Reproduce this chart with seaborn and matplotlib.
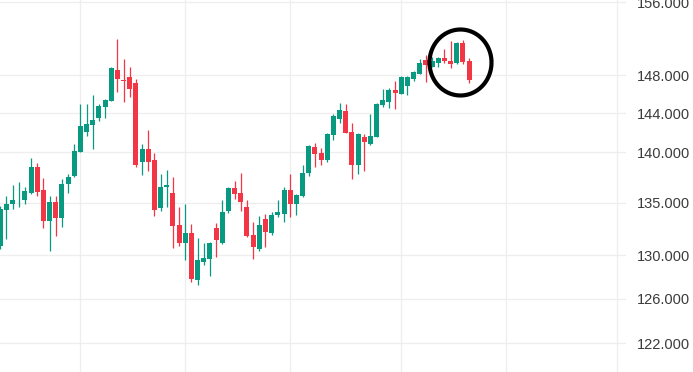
import numpy as np
import pandas as pd
import matplotlib
matplotlib.use("Agg")
import matplotlib.pyplot as plt
import seaborn as sns
from matplotlib.path import Path
from matplotlib.ticker import FixedLocator, FixedFormatter, NullLocator, NullFormatter

# ---- data ----
opens = [130.83, 134.29, 134.84, 135.23, 135.23, 135.96, 138.56, 136.21, 133.23, 135.13,
         133.52, 136.82, 137.61, 140.06, 142.11, 142.80, 143.54, 144.66, 145.33, 148.57,
         147.51, 147.82, 147.19, 139.08, 140.34, 139.25, 134.48, 136.53, 136.01, 132.82,
         131.12, 132.05, 127.73, 129.40, 129.68, 132.53, 131.12, 134.19, 136.50, 136.01,
         134.55, 131.86, 130.54, 133.39, 132.08, 133.81, 133.90, 136.21, 134.87, 135.65,
         137.90, 140.54, 139.93, 139.27, 141.81, 143.45, 144.24, 142.08, 138.69, 141.57,
         140.88, 141.60, 144.91, 145.14, 146.45, 146.06, 146.91, 147.64, 148.17, 149.65,
         148.93, 149.27, 149.85, 149.52, 149.27, 151.52, 149.51]
highs = [134.67, 135.62, 136.79, 137.09, 136.60, 139.44, 138.95, 137.43, 135.62, 135.62,
         137.33, 137.82, 140.85, 144.98, 144.98, 145.93, 144.98, 145.53, 148.93, 151.93,
         149.76, 148.90, 147.61, 140.85, 142.29, 139.93, 137.87, 138.27, 137.58, 134.55,
         134.84, 132.91, 131.66, 131.18, 131.28, 133.01, 135.23, 136.60, 137.19, 137.97,
         135.23, 133.11, 133.68, 133.88, 134.16, 135.23, 136.60, 137.87, 135.90, 138.76,
         140.75, 140.95, 140.44, 141.98, 143.93, 145.08, 144.98, 143.01, 141.98, 141.88,
         143.93, 145.08, 146.56, 146.66, 147.40, 147.93, 147.90, 148.50, 149.76, 150.19,
         149.94, 150.01, 150.85, 151.72, 151.60, 151.82, 149.81]
lows = [130.58, 131.57, 134.36, 134.58, 134.87, 135.90, 135.67, 132.53, 130.44, 131.79,
        132.67, 135.96, 137.55, 140.00, 141.70, 140.37, 143.24, 143.54, 145.30, 146.27,
        145.22, 145.75, 138.49, 137.71, 138.10, 133.71, 134.19, 134.58, 130.63, 130.83,
        129.59, 127.54, 127.27, 129.13, 128.10, 129.87, 131.05, 134.00, 135.35, 134.19,
        131.69, 129.68, 130.44, 130.73, 131.88, 133.62, 133.13, 133.62, 133.81, 135.60,
        137.61, 138.49, 138.78, 139.08, 141.29, 143.04, 141.95, 137.31, 137.80, 138.10,
        140.78, 141.55, 144.69, 144.59, 144.48, 146.00, 145.96, 147.43, 148.10, 147.29,
        148.90, 148.93, 149.27, 148.82, 149.20, 149.16, 147.22]
closes = [134.45, 134.93, 135.23, 135.32, 136.11, 138.56, 136.06, 133.23, 135.13, 133.52,
          136.89, 137.58, 140.13, 142.70, 142.90, 143.31, 144.77, 145.40, 148.79, 147.64,
          147.40, 146.59, 138.69, 140.34, 139.08, 134.29, 136.60, 136.79, 132.75, 131.12,
          132.14, 127.82, 129.56, 129.75, 131.18, 131.40, 134.16, 136.50, 135.84, 135.06,
          131.79, 130.73, 132.82, 132.17, 133.78, 134.16, 136.30, 134.87, 135.81, 137.97,
          140.65, 139.86, 139.27, 141.88, 143.72, 144.35, 142.01, 138.69, 141.88, 141.09,
          141.67, 144.98, 145.40, 146.45, 146.17, 147.82, 147.82, 148.36, 149.33, 149.14,
          149.51, 149.85, 149.58, 149.25, 151.52, 149.41, 147.51]
price_ticks = [122, 126, 130, 135, 140, 144, 148, 156]
price_labels = [f"{v:.3f}" for v in price_ticks]
time_grid = [13, 30, 47, 65, 82, 100]
highlight_bar = 74.6      # annotation circle centre (bar index)
highlight_price = 149.4   # annotation circle centre (price)

UP = "#089981"
DOWN = "#F23645"

sns.set_theme(style="white")
plt.rcParams["font.family"] = ["Liberation Sans", "DejaVu Sans"]

df = pd.DataFrame({"open": opens, "high": highs, "low": lows, "close": closes})
df["idx"] = np.arange(len(df))
df["color"] = np.where(df["close"] >= df["open"], UP, DOWN)
df["body_lo"] = df[["open", "close"]].min(axis=1)
df["body_h"] = (df["close"] - df["open"]).abs().clip(lower=0.08)

fig = plt.figure(figsize=(6.93, 3.72), dpi=100)
ax = fig.add_axes([0, 0, 626 / 693, 1])
ax.set_yscale("log")

ax.vlines(df["idx"], df["low"], df["high"], colors=df["color"], linewidth=0.9, zorder=2)
ax.bar(df["idx"], df["body_h"], bottom=df["body_lo"], width=0.81,
       color=df["color"], linewidth=0, zorder=3)

# annotation circle (slightly elliptical)
t = np.linspace(0, 2 * np.pi, 120)
ell = Path(np.column_stack([0.94 * np.cos(t), np.sin(t)]))
ax.plot([highlight_bar], [highlight_price], marker=ell, markersize=47.5,
        markerfacecolor="none", markeredgecolor="black", markeredgewidth=3.0,
        zorder=5, clip_on=False)

ax.set_xlim(-0.03, 101.43)
ax.set_ylim(119.5, 156.26)

ax.yaxis.set_major_locator(FixedLocator(price_ticks))
ax.yaxis.set_major_formatter(FixedFormatter(price_labels))
ax.yaxis.set_minor_locator(NullLocator())
ax.yaxis.set_minor_formatter(NullFormatter())
ax.yaxis.tick_right()
ax.tick_params(axis="y", length=0, pad=7.5, labelsize=10.5, labelcolor="#3b3b3b")

ax.xaxis.set_major_locator(FixedLocator(time_grid))
ax.xaxis.set_major_formatter(NullFormatter())
ax.tick_params(axis="x", length=0)

ax.grid(True, color="#eeeeee", linewidth=0.9, zorder=0)
ax.set_axisbelow(True)
for s in ax.spines.values():
    s.set_visible(False)

fig.savefig("out.png", dpi=100)
